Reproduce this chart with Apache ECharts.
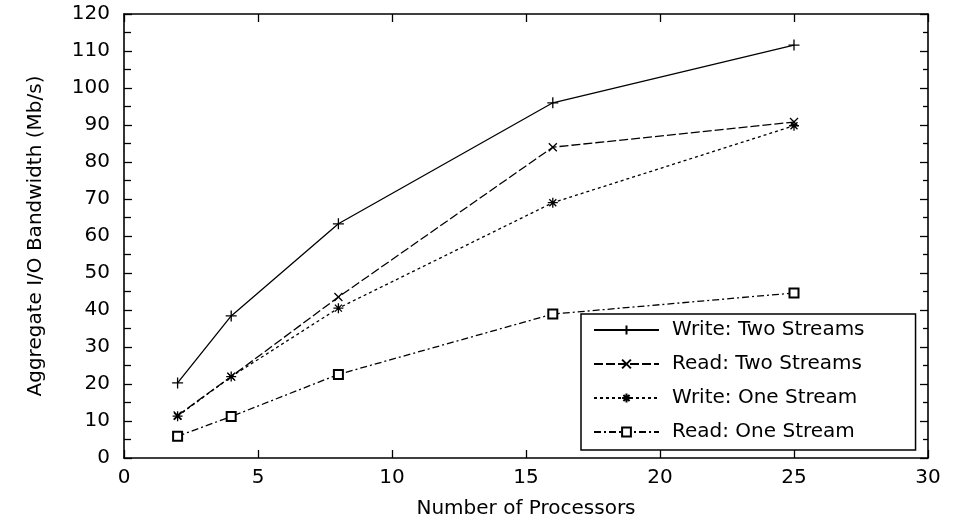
<!DOCTYPE html>
<html>
<head>
<meta charset="utf-8">
<script src="https://cdn.jsdelivr.net/npm/echarts@6/dist/echarts.min.js"></script>
<style>
  html, body { margin: 0; padding: 0; background: #fff; }
  #chart { width: 965px; height: 529px; }
</style>
</head>
<body>
<div id="chart"></div>
<script>
const processors = [2, 4, 8, 16, 25];
const writeTwo = [20.3, 38.4, 63.3, 96, 111.6];
const readTwo = [11.5, 22, 43.5, 84, 90.8];
const writeOne = [11.3, 22, 40.5, 69, 89.8];
const readOne = [5.9, 11.2, 22.6, 38.9, 44.6];
const seriesNames = ['Write: Two Streams', 'Read: Two Streams', 'Write: One Stream', 'Read: One Stream'];

const FONT = 'DejaVu Sans';
const INK = '#000';

// gnuplot-ish point glyphs
const PLUS = 'path://M5,0L5,10M0,5L10,5';
const CROSS = 'path://M0,0L10,10M10,0L0,10';
const STAR = 'path://M5,0L5,10M0,5L10,5M1.5,1.5L8.5,8.5M8.5,1.5L1.5,8.5';

const pairs = (ys) => processors.map((x, i) => [x, ys[i]]);

const makeSeries = (name, ys, symbol, size, dash) => ({
  name,
  type: 'line',
  data: pairs(ys),
  symbol,
  symbolSize: size,
  showAllSymbol: true,
  lineStyle: { color: INK, width: 1.3, type: dash },
  // empty symbols stroke with color and fill white
  itemStyle: { color: INK, borderColor: INK, borderWidth: 1.3 },
  emphasis: { disabled: true },
  animation: false
});

const tickStyle = { color: INK, width: 1.3 };
const baseAxis = {
  type: 'value',
  axisLine: { show: true, onZero: false, lineStyle: { color: INK, width: 1.6 } },
  axisTick: { show: true, inside: true, length: 8, lineStyle: tickStyle },
  splitLine: { show: false }
};

const chart = echarts.init(document.getElementById('chart'), null, { renderer: 'canvas' });
chart.setOption({
  backgroundColor: '#fff',
  animation: false,
  textStyle: { fontFamily: FONT, color: INK },
  grid: { left: 124, right: 37, top: 14, bottom: 71, containLabel: false },
  xAxis: [
    Object.assign({}, baseAxis, {
      position: 'bottom', min: 0, max: 30, interval: 5,
      name: 'Number of Processors', nameLocation: 'middle', nameGap: 41,
      nameTextStyle: { fontFamily: FONT, fontSize: 20, color: INK },
      axisLabel: { fontFamily: FONT, fontSize: 20, color: INK, margin: 10 }
    }),
    Object.assign({}, baseAxis, {
      position: 'top', min: 0, max: 30, interval: 5,
      axisLabel: { show: false }
    })
  ],
  yAxis: [
    Object.assign({}, baseAxis, {
      position: 'left', min: 0, max: 120, interval: 10,
      name: 'Aggregate I/O Bandwidth (Mb/s)', nameLocation: 'middle', nameGap: 78,
      nameTextStyle: { fontFamily: FONT, fontSize: 20, color: INK },
      axisLabel: { fontFamily: FONT, fontSize: 20, color: INK, margin: 14 },
      minorTick: { show: true, splitNumber: 2, length: 7, lineStyle: tickStyle }
    }),
    Object.assign({}, baseAxis, {
      position: 'right', min: 0, max: 120, interval: 10,
      axisLabel: { show: false },
      minorTick: { show: true, splitNumber: 2, length: 5, lineStyle: tickStyle }
    })
  ],
  legend: {
    orient: 'vertical',
    left: 581,
    top: 314,
    padding: [6, 51, 8, 12],
    itemWidth: 65,
    itemHeight: 11,
    itemGap: 14,
    backgroundColor: '#fff',
    borderColor: INK,
    borderWidth: 1.5,
    selectedMode: false,
    data: seriesNames,
    textStyle: { fontFamily: FONT, fontSize: 20, color: INK, padding: [0, 0, 0, 8] }
  },
  series: [
    makeSeries(seriesNames[0], writeTwo, PLUS, 11, 'solid'),
    makeSeries(seriesNames[1], readTwo, CROSS, 8, [9, 3]),
    makeSeries(seriesNames[2], writeOne, STAR, 10, [3, 3]),
    makeSeries(seriesNames[3], readOne, 'emptyRect', 9, [7, 3, 2, 3])
  ]
});
</script>
</body>
</html>
